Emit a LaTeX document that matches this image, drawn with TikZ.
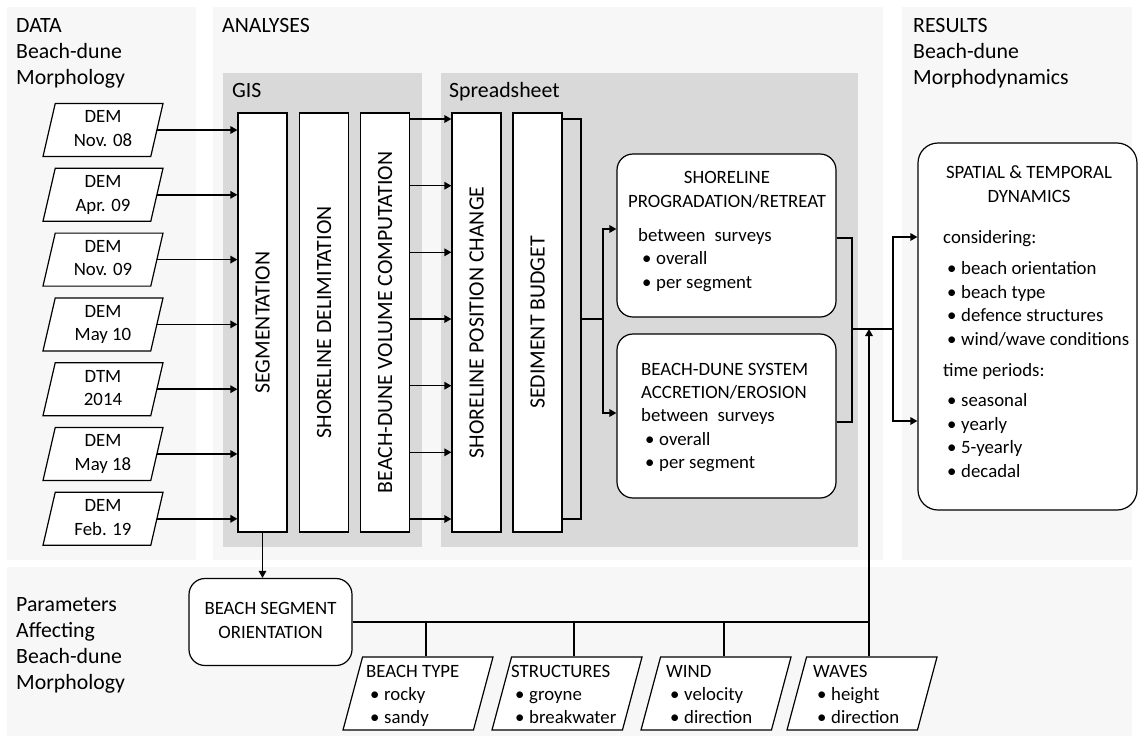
\documentclass[tikz,border=0pt]{standalone}
\usepackage{fontspec}
\setmainfont{Carlito}
\usetikzlibrary{shapes.geometric,arrows.meta,calc}

\definecolor{panel}{HTML}{F7F7F7}
\definecolor{toolbg}{HTML}{D9D9D9}

\newcommand\bodyfont{\fontsize{18.8}{23.4}\selectfont}
\newcommand\headfont{\fontsize{21.8}{26}\selectfont}
\newcommand\tleft[1]{\begin{tabular}[t]{@{}l@{}}#1\end{tabular}}
\newcommand\tcent[1]{\begin{tabular}{@{}c@{}}#1\end{tabular}}
\newcommand\bul[1]{\hspace*{4pt}\makebox[14pt][l]{•}#1}
% invisible strut of a given height, centred on the math axis
\newcommand\midstrut[1]{\ensuremath{\vcenter{\hbox{\rule{0pt}{#1}}}}}

\begin{document}
\begin{tikzpicture}[x=1pt,y=-1pt,
  ln/.style={line width=1.5pt, draw=black},
  arr/.style={ln, -{Triangle[length=7pt,width=7.5pt]}},
  bar/.style={draw, line width=1.2pt, fill=white, rotate=90,
    minimum width=419pt, minimum height=49pt, inner sep=0pt, font=\headfont},
  io/.style={draw, line width=1.2pt, fill=white, trapezium,
    trapezium stretches body, inner sep=0pt},
  datain/.style={io, trapezium left angle=77, trapezium right angle=103,
    minimum width=120pt, minimum height=53pt, font=\bodyfont},
  param/.style={io, trapezium left angle=75, trapezium right angle=105,
    minimum width=150pt, minimum height=73pt},
  roundbox/.style={draw, line width=1.2pt, fill=white, rounded corners=16pt, inner sep=0pt},
  body/.style={font=\bodyfont, inner sep=0pt},
  head/.style={font=\headfont, inner sep=0pt}]

\fill[white] (0,0) rectangle (1139,742);
\path[use as bounding box] (0,0) rectangle (1139,742);

% column panels
\fill[panel] (7,7) rectangle (196,560);
\fill[panel] (213,7) rectangle (883,560);
\fill[panel] (902,7) rectangle (1132,560);
\fill[panel] (7,567) rectangle (1132,736);
% software areas
\fill[toolbg] (223,73) rectangle (422,547);
\fill[toolbg] (441,73) rectangle (858,547);

% headings
\node[head, anchor=base west] (hdata) at (16,32) {\tleft{DATA\\Beach-dune\\Morphology}};
\node[head, anchor=base west] (hana) at (222,32) {ANALYSES};
\node[head, anchor=base west] (hres) at (913,32) {\tleft{RESULTS\\Beach-dune\\Morphodynamics}};
\node[head, anchor=base west] (hgis) at (232,97) {GIS};
\node[head, anchor=base west] (hss) at (449,97) {Spreadsheet};
\node[head, anchor=base west] (hpar) at (16,611) {\tleft{Parameters\\Affecting\\Beach-dune\\Morphology}};

% processing steps
\node[bar] (seg) at (262.5,322.5) {SEGMENTATION};
\node[bar] (del) at (324,322.5) {SHORELINE DELIMITATION};
\node[bar] (vol) at (385,322.5) {BEACH-DUNE VOLUME COMPUTATION};
\node[bar] (pos) at (476.5,322.5) {SHORELINE POSITION CHANGE};
\node[bar] (sed) at (537.5,322.5) {SEDIMENT BUDGET};

% survey data
\foreach \n/\a/\b [count=\i from 0] in
  {d1/DEM/Nov. 08, d2/DEM/Apr. 09, d3/DEM/Nov. 09, d4/DEM/May 10,
   d5/DTM/2014, d6/DEM/May 18, d7/DEM/Feb. 19}
{
  \node[datain] (\n) at (103,{130+64.8*\i}) {\midstrut{53pt}\tcent{\a\\\b}};
  \draw[arr] (\n.east) -- (seg.north |- \n.east);
}

% volumes to shoreline change
\foreach \yy in {119,185.7,252.3,319,385.7,452.3,519}
{
  \path (0,\yy) coordinate (lvl);
  \draw[arr] (vol.south |- lvl) -- (pos.north |- lvl);
}

% result boxes
\node[roundbox, minimum width=219pt, minimum height=163pt] (shore) at (726.5,235.5) {};
\node[roundbox, minimum width=219pt, minimum height=164pt] (acc) at (726.5,416) {};
\node[body, anchor=base] (shoreA) at (727,195) {\tcent{SHORELINE\\PROGRADATION/RETREAT}};
\node[body, anchor=base west] (shoreB) at (638,241.5)
  {\tleft{between\hspace{9pt}surveys\\\bul{overall}\\\bul{per segment}}};
\node[body, anchor=base west] (accA) at (641,375)
  {\tleft{BEACH-DUNE SYSTEM\\ACCRETION/EROSION\\between\hspace{9pt}surveys\\\bul{overall}\\\bul{per segment}}};

% budget bracket and split
\coordinate (sbT) at (581,119);
\coordinate (sbB) at (581,519);
\coordinate (sbM) at (581,319);
\coordinate (sj) at (603,319);
\coordinate (sjT) at (603,229);
\coordinate (sjB) at (603,413);
\draw[ln] (sed.south |- sbT) -- (sbT) -- (sbB) -- (sed.south |- sbB);
\draw[ln] (sbM) -- (sj);
\draw[arr] (sj) -- (sjT) -- (shore.west |- sjT);
\draw[arr] (sj) -- (sjB) -- (acc.west |- sjB);

% spatial and temporal dynamics
\node[roundbox, rounded corners=20pt, minimum width=219pt, minimum height=367pt] (res) at (1027.5,326.5) {};
\node[body, anchor=base] (resA) at (1029,190) {\tcent{SPATIAL \& TEMPORAL\\DYNAMICS}};
\node[body, anchor=base west] (resB) at (943,243.5)
  {\tleft{considering:\\[8pt]
   \bul{beach orientation}\\\bul{beach type}\\\bul{defence structures}\\\bul{wind/wave conditions}\\[8pt]
   time periods:\\[7pt]
   \bul{seasonal}\\\bul{yearly}\\\bul{5-yearly}\\\bul{decadal}}};

% output bracket and split
\coordinate (rbT) at (852,238);
\coordinate (rbB) at (852,422);
\coordinate (rbM) at (852,329);
\coordinate (rj) at (893,329);
\coordinate (rjT) at (893,237);
\coordinate (rjB) at (893,421);
\draw[ln] (shore.east |- rbT) -- (rbT) -- (rbB) -- (acc.east |- rbB);
\draw[ln] (rbM) -- (rj);
\draw[arr] (rj) -- (rjT) -- (res.west |- rjT);
\draw[arr] (rj) -- (rjB) -- (res.west |- rjB);

% parameters
\node[roundbox, minimum width=163pt, minimum height=87pt, font=\bodyfont] (orient) at (270.5,622)
  {\tcent{BEACH SEGMENT\\ORIENTATION}};
\draw[arr] (seg.west) -- (seg.west |- orient.north);

\node[param] (btype) at (418,693.5) {\midstrut{73pt}};
\node[param] (struct) at (567,693.5) {\midstrut{73pt}};
\node[param] (wind) at (716,693.5) {\midstrut{73pt}};
\node[param] (waves) at (862,693.5) {\midstrut{73pt}};
\node[body, anchor=base west] (btypeT) at (366,677) {\tleft{BEACH TYPE\\\bul{rocky}\\\bul{sandy}}};
\node[body, anchor=base west] (structT) at (511,677) {\tleft{STRUCTURES\\\bul{groyne}\\\bul{breakwater}}};
\node[body, anchor=base west] (windT) at (666,677) {\tleft{WIND\\\bul{velocity}\\\bul{direction}}};
\node[body, anchor=base west] (wavesT) at (813,677) {\tleft{WAVES\\\bul{height}\\\bul{direction}}};

\coordinate (junc) at (869,622);
\draw[ln] (orient.east) -- (junc);
\foreach \nm/\xx in {btype/426, struct/574, wind/724}
{
  \path (\xx,622) coordinate (drop);
  \draw[ln] (drop) -- (drop |- \nm.north);
}
\draw[arr] (junc |- waves.north) -- (junc |- rbM);
\end{tikzpicture}
\end{document}
